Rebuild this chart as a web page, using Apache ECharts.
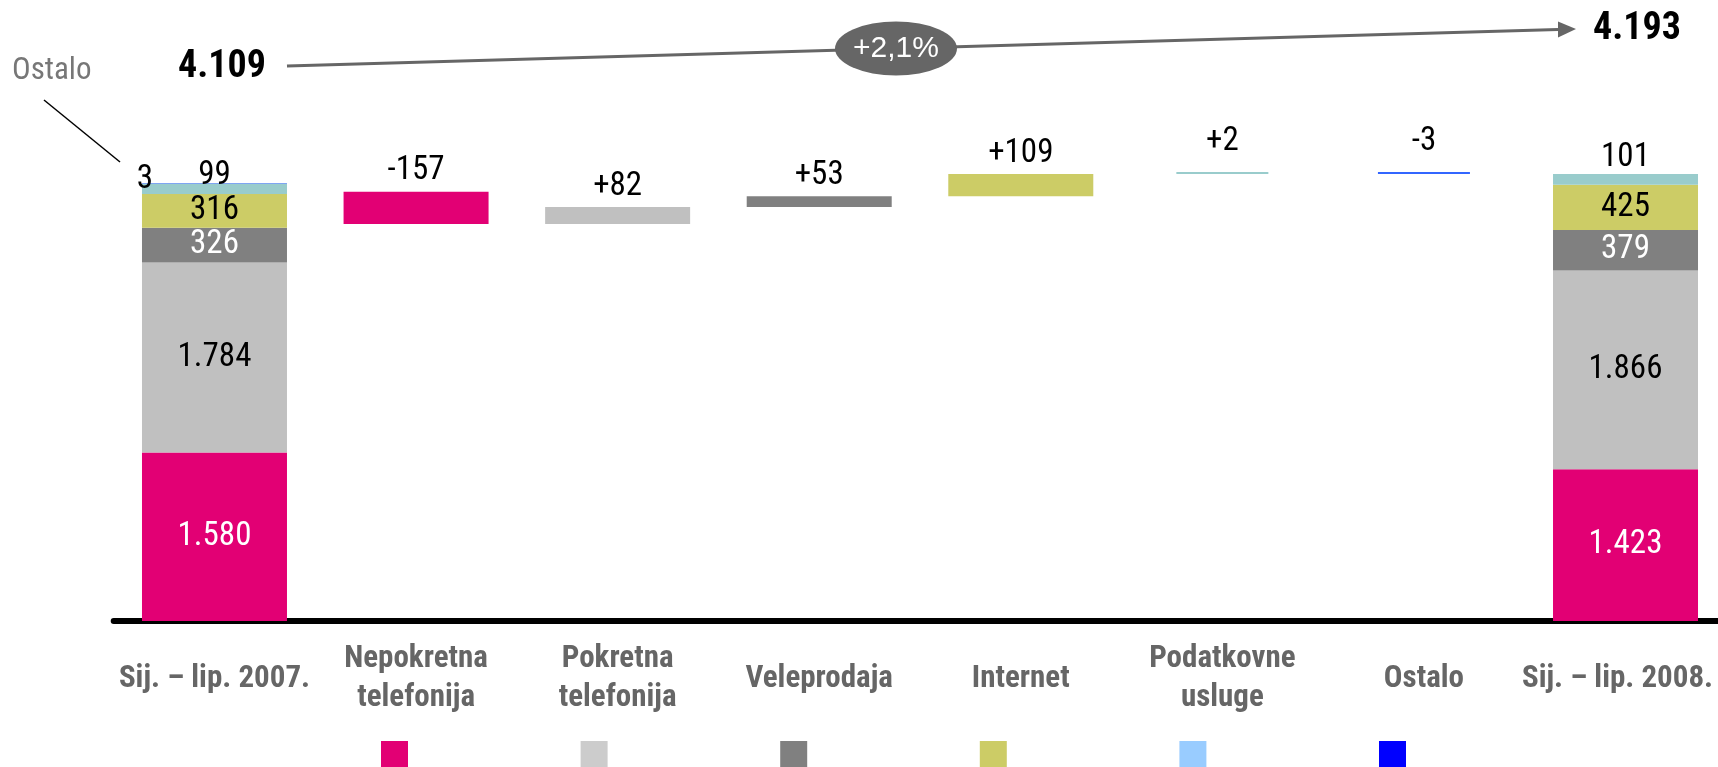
<!DOCTYPE html>
<html><head><meta charset="utf-8">
<script src="https://cdn.jsdelivr.net/npm/echarts@6/dist/echarts.min.js"></script>
<style>html,body{margin:0;padding:0;background:#fff}#c{width:1718px;height:767px}</style>
</head><body><div id="c"></div>
<script>
// ---------- data ----------
const categories = ['Sij. – lip. 2007.', 'Nepokretna\ntelefonija', 'Pokretna\ntelefonija', 'Veleprodaja', 'Internet', 'Podatkovne\nusluge', 'Ostalo', 'Sij. – lip. 2008.'];
const components = ['Nepokretna telefonija', 'Pokretna telefonija', 'Veleprodaja', 'Internet', 'Podatkovne usluge', 'Ostalo'];
const values2007 = [1580, 1784, 326, 316, 99, 3];
const values2008 = [1423, 1866, 379, 425, 101, 0];
const changes = [-157, 82, 53, 109, 2, -3];
const totals = [4109, 4193];
const growthLabel = '+2,1%';
const sideLabel = 'Ostalo';

// ---------- styles ----------
const barColors = ['#e20074', '#c0c0c0', '#808080', '#cccc66', '#99cccc', '#3366ff'];
const legendColors = ['#e20074', '#cccccc', '#808080', '#cccc66', '#99ccff', '#0000ff'];
const insideLabelColors = ['#ffffff', '#000000', '#ffffff', '#000000', '#000000', '#000000'];
const NARROW = "'Roboto Condensed','Liberation Sans Narrow','Arial Narrow','DejaVu Sans Condensed',sans-serif";
const fmt = v => String(v).replace(/\B(?=(\d{3})+(?!\d))/g, '.');
const signed = v => (v > 0 ? '+' : '') + v;
const LABEL_SIZE = 33;

const series = [];
components.forEach((name, i) => {
  const data = categories.map(() => null);
  let label;
  if (i <= 3) {
    data[0] = values2007[i];
    data[7] = values2008[i];
    label = { show: true, position: 'inside', color: insideLabelColors[i], fontSize: LABEL_SIZE, fontFamily: NARROW, formatter: p => fmt(p.value) };
  } else if (i === 4) {
    data[0] = { value: values2007[i], label: { distance: -9 } };
    data[7] = { value: values2008[i], label: { distance: 0 } };
    label = { show: true, position: 'top', color: '#000', fontSize: LABEL_SIZE, fontFamily: NARROW, formatter: p => fmt(p.value) };
  } else {
    data[0] = { value: values2007[i], label: { show: true } };
    data[7] = { value: values2008[i], label: { show: false } };
    label = { show: false, position: 'left', distance: 0, offset: [11, -3], color: '#000', fontSize: LABEL_SIZE, fontFamily: NARROW, formatter: p => fmt(p.value) };
  }
  series.push({
    name, type: 'bar', stack: 'total', xAxisIndex: 0, yAxisIndex: 0,
    barWidth: 145, barGap: '-100%', itemStyle: { color: barColors[i] },
    label, data, animation: false
  });
});

const baseThick = categories.map(() => null);
const baseThin = categories.map(() => null);
let cum = totals[0];
const deltaSeries = [];
changes.forEach((d, i) => {
  const before = cum, after = cum + d;
  cum = after;
  const thin = Math.abs(d) < 10;
  (thin ? baseThin : baseThick)[i + 1] = Math.min(before, after);
  const data = categories.map(() => null);
  data[i + 1] = Math.abs(d);
  deltaSeries.push({
    name: components[i], type: 'bar', stack: thin ? 'wf2' : 'wf',
    xAxisIndex: thin ? 1 : 0, yAxisIndex: 1,
    barWidth: thin ? 92 : 145, barGap: '-100%', barMinHeight: thin ? 2 : 0,
    itemStyle: { color: barColors[i] },
    label: { show: true, position: 'top', distance: thin ? 14 : 4, color: '#000', fontSize: LABEL_SIZE, fontFamily: NARROW, formatter: () => signed(d) },
    data, animation: false
  });
});
series.push({ name: '_base', type: 'bar', stack: 'wf', xAxisIndex: 0, yAxisIndex: 1, barWidth: 145, barGap: '-100%', itemStyle: { color: 'rgba(0,0,0,0)' }, silent: true, data: baseThick, animation: false });
series.push({ name: '_base2', type: 'bar', stack: 'wf2', xAxisIndex: 1, yAxisIndex: 1, barWidth: 92, barGap: '-100%', itemStyle: { color: 'rgba(0,0,0,0)' }, silent: true, data: baseThin, animation: false });
deltaSeries.forEach(s => series.push(s));

const axisLabelStyle = { color: '#666666', fontSize: 31, fontWeight: 'bold', fontFamily: NARROW, lineHeight: 39, verticalAlign: 'middle' };
const axisData = categories.map((c, i) => i === categories.length - 1
  ? { value: c, textStyle: Object.assign({}, axisLabelStyle, { padding: [0, 16, 0, 0] }) } : c);

const arrowStart = [287, 66], arrowEnd = [1576, 29];
const slope = (arrowEnd[1] - arrowStart[1]) / (arrowEnd[0] - arrowStart[0]);
const headLen = 18, headHalf = 8;
const hb = [arrowEnd[0] - headLen, arrowEnd[1] - slope * headLen];
const ovalX = 896, ovalY = arrowStart[1] + slope * (896 - arrowStart[0]);

const chart = echarts.init(document.getElementById('c'), null, { renderer: 'canvas' });
chart.setOption({
  animation: false,
  backgroundColor: '#ffffff',
  grid: { left: 113.7, width: 1612.6, top: 88, bottom: 146, containLabel: false, outerBoundsMode: 'none' },
  xAxis: [{
    type: 'category', data: axisData, gridIndex: 0,
    axisLine: { show: true, lineStyle: { color: '#000', width: 6 } },
    axisTick: { show: false },
    axisLabel: Object.assign({ interval: 0, margin: 58, hideOverlap: false }, axisLabelStyle)
  }, {
    type: 'category', data: categories, gridIndex: 0, show: false
  }],
  yAxis: [
    { type: 'value', min: 0, max: 5000, show: false, splitLine: { show: false } },
    { type: 'value', min: 2015, max: 4615, show: false, splitLine: { show: false } }
  ],
  legend: {
    data: components.map((n, i) => ({ name: n, itemStyle: { color: legendColors[i] } })),
    icon: 'rect', itemWidth: 27, itemHeight: 30, itemGap: 172.6,
    left: 381, top: 741, padding: 0, selectedMode: false,
    formatter: () => '', textStyle: { fontSize: 1 }
  },
  series,
  graphic: [
    { type: 'text', left: 12, top: 56, style: { text: sideLabel, fontSize: 31, fontFamily: NARROW, fill: '#777777' } },
    { type: 'line', shape: { x1: 44, y1: 100, x2: 120, y2: 162 }, style: { stroke: '#000', lineWidth: 1.5 } },
    { type: 'text', x: 178, y: 67, style: { text: fmt(totals[0]), fontSize: 38, fontWeight: 'bold', fontFamily: NARROW, fill: '#000', align: 'left', verticalAlign: 'middle' } },
    { type: 'text', x: 1593, y: 29, style: { text: fmt(totals[1]), fontSize: 38, fontWeight: 'bold', fontFamily: NARROW, fill: '#000', align: 'left', verticalAlign: 'middle' } },
    { type: 'line', shape: { x1: arrowStart[0], y1: arrowStart[1], x2: hb[0], y2: hb[1] }, style: { stroke: '#666666', lineWidth: 3 } },
    { type: 'polygon', shape: { points: [[hb[0], hb[1] - headHalf], arrowEnd, [hb[0], hb[1] + headHalf]] }, style: { fill: '#666666' } },
    { type: 'circle', x: ovalX, y: ovalY, scaleX: 61 / 27, scaleY: 1, shape: { cx: 0, cy: 0, r: 27 }, style: { fill: '#666666' } },
    { type: 'text', x: ovalX, y: ovalY, style: { text: growthLabel, fontSize: 30, fontFamily: "'Liberation Sans',Arial,sans-serif", fill: '#ffffff', align: 'center', verticalAlign: 'middle' } }
  ]
});
</script>
</body></html>
